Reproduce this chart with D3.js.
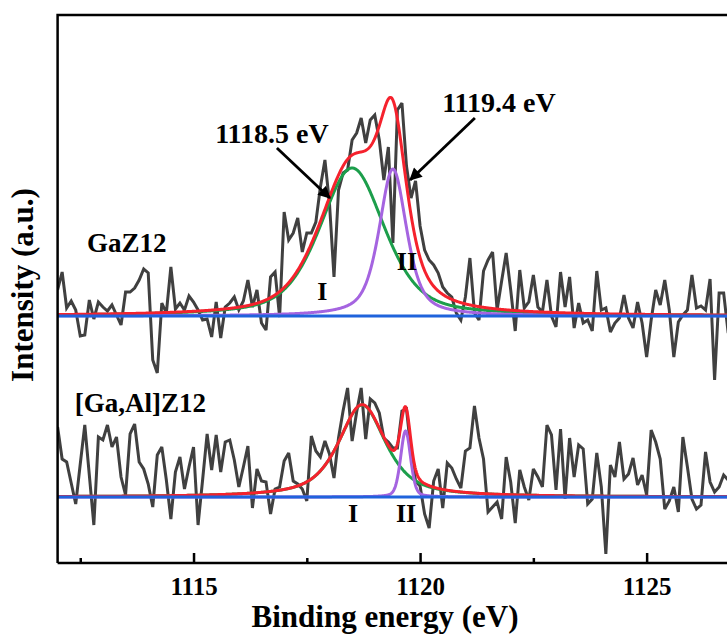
<!DOCTYPE html>
<html>
<head>
<meta charset="utf-8">
<script src="https://cdn.jsdelivr.net/npm/d3@7/dist/d3.min.js"></script>
<style>
  body { margin: 0; background: #fff; }
  svg { display: block; }
  text { font-family: "Liberation Serif", "Times New Roman", serif; font-weight: bold; fill: #000; }
</style>
</head>
<body>
<svg id="chart" width="727" height="639"></svg>
<script>
// Binding-energy grid of the Ga 2p3/2 scans (eV)
const energyStart = 1112.0;
const energyStep = 0.1;

// Raw intensities above each trace's own baseline (a.u.)
const gaZ12Counts = [
  26, 44, 8, 15, 6, -20, -19, 16, -3, 14,
  9, 5, 11, 1, -9, 24, 24, 28, 36, 47,
  43, -44, -57, 13, 3, 49, 7, 13, 6, 20,
  14, 6, -4, -3, -21, 14, -22, 9, 13, 19,
  6, 15, 36, 9, 26, -7, -14, 39, 44, -1,
  104, 76, 83, 98, 64, 83, 83, 94, 129, 156,
  113, 39, 126, 143, 146, 176, 183, 198, 173, 196,
  201, 176, 136, 169, 73, 206, 213, 150, 118, 135,
  90, 66, 56, 51, 43, 29, 23, 19, 3, -4,
  19, 58, 3, -4, 45, 56, 64, 6, 35, 63,
  26, -15, 46, 8, 14, 41, 9, 4, 36, 0,
  -11, 44, 9, 39, -12, 13, -7, -4, -15, 45,
  6, 8, -16, -7, -2, 21, -2, -12, 14, -7,
  -41, -4, 26, 11, 36, 6, -41, -6, 1, 6,
  41, 8, 10, 6, 37, -64, 23, 23, -17
];

const gaAlZ12Counts = [
  70, 38, 35, 14, -7, 33, 72, 22, -28, 60,
  57, 72, 50, 60, 20, 2, 63, 73, 35, 28,
  13, -10, 42, 50, 17, -22, 25, 40, 8, 30,
  50, -28, 17, 63, 27, 62, 25, 55, 57, 37,
  10, 30, 51, -11, 28, 16, 15, -17, 8, 10,
  36, 44, 16, 13, 8, -4, 61, 46, 40, 56,
  43, 19, 59, 86, 109, 56, 85, 109, 58, 98,
  94, 84, 59, 55, 49, 49, 86, 88, 46, 16,
  11, -17, -31, 16, 28, -11, 34, 29, 18, 9,
  46, 49, 91, 59, 38, -15, -10, -5, -22, 40,
  15, -26, 27, 10, -3, 28, 20, 10, 72, 62,
  7, 68, -2, 59, 20, 52, 48, -7, -2, 44,
  10, -57, 32, 20, 55, 18, 23, 39, 12, 22,
  2, 67, 55, 38, -12, -4, 10, -15, 60, 30,
  -2, -12, -8, 45, 15, 5, 10, 22, 17
];

// Vertical stacking offsets of the two samples (a.u.)
const sampleNames = ["GaZ12", "[Ga,Al]Z12"];
const sampleOffsets = [247, 66];

// Pseudo-Voigt components: peak I and peak II
const peakNames = ["I", "II"];
const gaZ12Centers = [1118.5, 1119.4];
const gaZ12Heights = [148, 147];
const gaZ12Hwhm = [0.85, 0.36];
const gaZ12Eta = [0.5, 0.6];

const gaAlZ12Centers = [1118.72, 1119.68];
const gaAlZ12Heights = [92, 66];
const gaAlZ12Hwhm = [0.62, 0.13];
const gaAlZ12Eta = [0.7, 0.3];

// Axis ticks
const majorTicks = [1115, 1120, 1125];
const minorTicks = [1112.5, 1117.5, 1122.5];

// Annotations (energy, intensity)
const peakLabelPos = [
  [[1117.84, 263], [1119.71, 293]],
  [[1118.52, 41], [1119.69, 41]]
];
const sampleLabelPos = [[1112.65, 311], [1112.38, 151]];
const calloutTexts = ["1118.5 eV", "1119.4 eV"];
const calloutTextPos = [[1116.73, 420], [1121.74, 451]];
const calloutArrows = [
  [[1116.84, 415], [1118.01, 365]],
  [[1121.21, 445], [1119.78, 383]]
];

const svg = d3.select("#chart");
const plotLeft = 57.6, plotTop = 15, plotBottom = 563;
const pxPerEv = 45.31;
const x = d3.scaleLinear().domain([1112, 1127]).range([plotLeft, plotLeft + 15 * pxPerEv]);
const y = d3.scaleLinear().domain([0, plotBottom - plotTop]).range([plotBottom, plotTop]);

svg.append("defs").append("clipPath").attr("id", "plot-clip")
  .append("rect")
  .attr("x", x(1112)).attr("y", y(y.domain()[1]))
  .attr("width", x(1127) - x(1112)).attr("height", y(0) - y(y.domain()[1]));

const energies = d3.range(gaZ12Counts.length).map(i => +(energyStart + i * energyStep).toFixed(2));
const fineEnergies = d3.range(1112, 1127.001, 0.01);

function pseudoVoigt(e, c, h, w, eta) {
  const r = (e - c) / w;
  const lor = 1 / (1 + r * r);
  const gau = Math.exp(-Math.LN2 * r * r);
  return h * (eta * lor + (1 - eta) * gau);
}

const samples = [
  { counts: gaZ12Counts, offset: sampleOffsets[0], c: gaZ12Centers, h: gaZ12Heights, w: gaZ12Hwhm, eta: gaZ12Eta },
  { counts: gaAlZ12Counts, offset: sampleOffsets[1], c: gaAlZ12Centers, h: gaAlZ12Heights, w: gaAlZ12Hwhm, eta: gaAlZ12Eta }
];

const line = d3.line().x(d => x(d[0])).y(d => y(d[1]));
const plot = svg.append("g").attr("clip-path", "url(#plot-clip)");

const colors = { raw: "#404040", peak1: "#1c9e4b", peak2: "#a564e0", envelope: "#f5222d", base: "#1f63dc" };

samples.forEach(s => {
  plot.append("path")
    .datum(energies.map((e, i) => [e, s.offset + s.counts[i]]))
    .attr("d", line).attr("fill", "none")
    .attr("stroke", colors.raw).attr("stroke-width", 3)
    .attr("stroke-linejoin", "miter").attr("stroke-miterlimit", 3);
});

samples.forEach(s => {
  const comp = k => fineEnergies.map(e => [e, s.offset + pseudoVoigt(e, s.c[k], s.h[k], s.w[k], s.eta[k])]);
  plot.append("path").datum(comp(0)).attr("d", line).attr("fill", "none")
    .attr("stroke", colors.peak1).attr("stroke-width", 3);
  plot.append("path").datum(comp(1)).attr("d", line).attr("fill", "none")
    .attr("stroke", colors.peak2).attr("stroke-width", 3);
  const env = fineEnergies.map(e => [e, s.offset +
    pseudoVoigt(e, s.c[0], s.h[0], s.w[0], s.eta[0]) +
    pseudoVoigt(e, s.c[1], s.h[1], s.w[1], s.eta[1])]);
  plot.append("path").datum(env).attr("d", line).attr("fill", "none")
    .attr("stroke", colors.envelope).attr("stroke-width", 3);
});

samples.forEach(s => {
  plot.append("path").datum([[1112, s.offset], [1127, s.offset]])
    .attr("d", line).attr("fill", "none")
    .attr("stroke", colors.base).attr("stroke-width", 3);
});

// Frame and axes
const frame = svg.append("g").attr("stroke", "#000").attr("stroke-width", 2.5).attr("fill", "none");
frame.append("path").attr("d", `M${x(1127)},${y(y.domain()[1])}H${x(1112)}V${y(0)}`);

const xAxis = svg.append("g").attr("transform", `translate(0,${y(0)})`)
  .call(d3.axisBottom(x).tickValues(majorTicks).tickSize(-10).tickSizeOuter(0).tickFormat(d3.format("d")));
xAxis.select(".domain").attr("stroke-width", 2.5).attr("d", `M${x(1112)},0H${x(1127)}`);
xAxis.selectAll(".tick line").attr("stroke-width", 2.5);
xAxis.selectAll(".tick text").attr("y", 32).attr("dy", 0)
  .style("font-size", "25px").style("font-family", "'Liberation Serif', serif").style("font-weight", "bold");

const xMinor = svg.append("g").attr("transform", `translate(0,${y(0)})`)
  .call(d3.axisBottom(x).tickValues(minorTicks).tickSize(-5).tickFormat(""));
xMinor.select(".domain").remove();
xMinor.selectAll(".tick line").attr("stroke-width", 2.5);

svg.append("text").attr("x", 385).attr("y", 627).attr("text-anchor", "middle")
  .style("font-size", "31px").text("Binding energy (eV)");
svg.append("text").attr("transform", "translate(33,285) rotate(-90)").attr("text-anchor", "middle")
  .style("font-size", "31px").text("Intensity (a.u.)");

// Sample names
sampleNames.forEach((n, i) => {
  svg.append("text").attr("x", x(sampleLabelPos[i][0])).attr("y", y(sampleLabelPos[i][1]))
    .style("font-size", "27px").text(n);
});

// Peak labels
peakLabelPos.forEach(pair => pair.forEach((p, k) => {
  svg.append("text").attr("x", x(p[0])).attr("y", y(p[1])).attr("text-anchor", "middle")
    .style("font-size", "26px").text(peakNames[k]);
}));

// Callouts with arrows
svg.append("defs").append("marker").attr("id", "arrow-head")
  .attr("viewBox", "0 0 10 10").attr("refX", 9).attr("refY", 5)
  .attr("markerWidth", 5.5).attr("markerHeight", 4.5).attr("markerUnits", "strokeWidth")
  .attr("orient", "auto")
  .append("path").attr("d", "M0,0L10,5L0,10Z").attr("fill", "#000");

calloutTexts.forEach((t, i) => {
  svg.append("text").attr("x", x(calloutTextPos[i][0])).attr("y", y(calloutTextPos[i][1]))
    .attr("text-anchor", "middle").style("font-size", "28px").text(t);
  const a = calloutArrows[i];
  svg.append("line")
    .attr("x1", x(a[0][0])).attr("y1", y(a[0][1]))
    .attr("x2", x(a[1][0])).attr("y2", y(a[1][1]))
    .attr("stroke", "#000").attr("stroke-width", 2.8)
    .attr("marker-end", "url(#arrow-head)");
});
</script>
</body>
</html>
